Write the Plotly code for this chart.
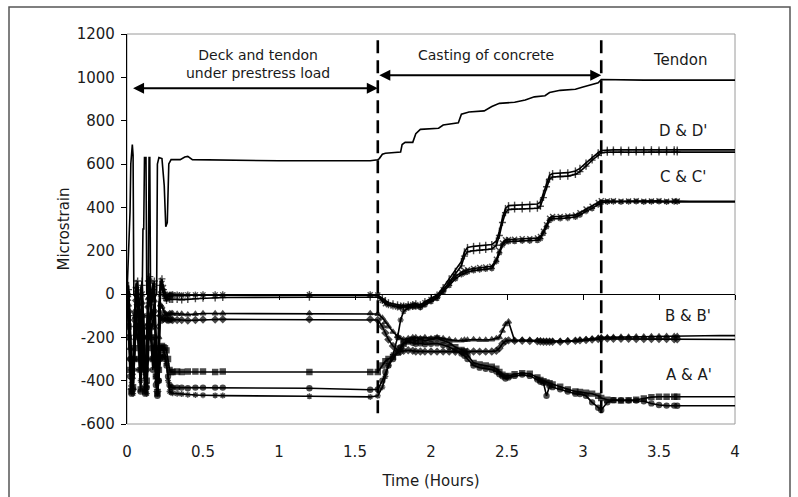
import plotly.graph_objects as go

# ---------------- data ----------------
x_ticks = [0, 0.5, 1, 1.5, 2, 2.5, 3, 3.5, 4]
x_tick_labels = ["0", "0.5", "1", "1.5", "2", "2.5", "3", "3.5", "4"]
y_ticks = [-600, -400, -200, 0, 200, 400, 600, 800, 1000, 1200]
y_tick_labels = ["-600", "-400", "-200", "0", "200", "400", "600", "800", "1000", "1200"]
x_range = [0, 4]
y_range = [-600, 1200]
phase_boundaries = [1.65, 3.12]

# time grids (hours)
t_phase1 = [0.00, 0.01, 0.02, 0.03, 0.04, 0.05, 0.06, 0.07, 0.08, 0.09, 0.10, 0.11, 0.12, 0.13,
            0.14, 0.15, 0.16, 0.17, 0.18, 0.19, 0.20, 0.21, 0.22, 0.23, 0.24, 0.25, 0.26, 0.27,
            0.28, 0.29, 0.30, 0.33, 0.36, 0.40, 0.45, 0.50, 0.58, 0.63, 1.20, 1.60]
t_phase2 = [1.65, 1.68, 1.70, 1.72, 1.75, 1.78, 1.80, 1.82, 1.85, 1.88, 1.90, 1.93, 1.96, 2.00,
            2.04, 2.08, 2.12, 2.16, 2.20, 2.22, 2.24, 2.28, 2.32, 2.36, 2.40, 2.43, 2.45, 2.47,
            2.49, 2.51, 2.55, 2.60, 2.65, 2.70, 2.72, 2.74, 2.76, 2.78, 2.80, 2.85, 2.90, 2.95,
            2.98, 3.02, 3.06, 3.10, 3.12, 3.16, 3.20, 3.25, 3.30, 3.35, 3.40, 3.45, 3.50, 3.55,
            3.60, 3.62, 3.70, 3.80, 3.90, 4.00]

# Tendon
tendon_t = [0.00, 0.02, 0.025, 0.035, 0.04, 0.045, 0.07, 0.10, 0.105, 0.11, 0.115, 0.125, 0.13,
            0.14, 0.145, 0.15, 0.155, 0.18, 0.195, 0.20, 0.21, 0.23, 0.245, 0.255, 0.265, 0.275,
            0.29, 0.35, 0.38, 0.40, 0.43, 0.60, 1.00, 1.60, 1.65, 1.66, 1.68, 1.70, 1.78, 1.80,
            1.81, 1.83, 1.88, 1.90, 1.93, 2.05, 2.08, 2.12, 2.18, 2.20, 2.25, 2.35, 2.40, 2.45,
            2.55, 2.62, 2.68, 2.75, 2.78, 2.85, 2.95, 3.00, 3.05, 3.10, 3.12, 3.35, 3.40, 4.00]
tendon_v = [0, 380, 600, 690, 640, 0, -50, 0, 300, 300, 630, 630, 0, 0, 630, 630, 0, -20, 0, 600,
            630, 625, 500, 310, 330, 600, 620, 620, 632, 635, 620, 618, 615, 615, 620, 625, 645,
            650, 652, 655, 690, 700, 700, 740, 760, 765, 780, 785, 790, 830, 840, 845, 865, 880,
            885, 895, 910, 915, 930, 940, 945, 955, 965, 975, 990, 985, 987, 987]

# Gauges, phase 1 (deck and tendon under prestress load)
D_p1 = [0, 40, -150, -300, -420, -200, 50, 30, -100, 20, 60, -250, -400, -150, 70, 40, -100, 50, 30,
        -300, -420, -50, 60, 40, -10, 0, -20, -10, -5, -5, -3, -5, -8, -5, -5, -3, -3, -3, -2, -3]
D2_p1 = [-10, 20, -100, -350, -440, -150, 30, 60, -50, -150, 40, -200, -430, -300, 60, 80, -50, 20,
         60, -200, -440, -100, 40, 70, 20, -20, -30, -20, -25, -25, -25, -25, -28, -25, -22, -20,
         -18, -16, -15, -15]
C_p1 = [0, -20, -200, -400, -380, -100, 20, 10, -80, -200, 0, -150, -380, -420, -50, 60, 0, -30, 40,
        -150, -400, -300, 0, 50, 30, 0, -10, -5, -5, -5, -5, -5, -5, -4, -4, -4, -4, -4, -3, -3]
C2_p1 = [0, -100, -300, -450, -460, -300, -100, -50, -200, -400, -300, -100, -350, -460, -300, -100,
         -150, -300, -200, -380, -460, -400, -250, -250, -260, -280, -320, -400, -450, -455, -458,
         -460, -462, -465, -466, -467, -468, -469, -472, -475]
B_p1 = [0, -50, -250, -420, -300, -80, 0, -20, -150, -300, -40, -300, -420, -200, -20, 20, -80, -100,
        -30, -250, -400, -200, -50, -60, -80, -90, -95, -95, -90, -90, -90, -92, -92, -95, -92, -90,
        -90, -90, -89, -89]
B2_p1 = [0, -80, -300, -440, -350, -120, -30, -50, -200, -350, -100, -200, -440, -350, -60, -20, -100,
         -150, -80, -300, -450, -300, -100, -120, -115, -110, -118, -120, -118, -118, -120, -120,
         -120, -122, -120, -118, -118, -117, -117, -117]
A_p1 = [0, -150, -350, -450, -430, -250, -100, -150, -300, -440, -250, -300, -450, -400, -150, -100,
        -200, -300, -250, -380, -460, -350, -250, -240, -245, -250, -260, -300, -350, -360, -360,
        -358, -360, -358, -358, -358, -360, -358, -360, -360]
A2_p1 = [0, -200, -380, -460, -440, -300, -150, -200, -350, -450, -300, -350, -460, -430, -200, -150,
         -250, -350, -300, -420, -470, -400, -300, -280, -290, -300, -330, -380, -420, -430, -432,
         -432, -432, -435, -432, -432, -432, -432, -435, -442]

# Gauges, phase 2 (casting of concrete) and after
D_p2 = [-5, -20, -30, -40, -45, -50, -55, -55, -50, -48, -45, -50, -35, -20, -5, 30, 70, 105, 150,
        195, 215, 220, 222, 225, 228, 245, 290, 350, 395, 408, 410, 410, 412, 415, 425, 465, 515,
        548, 556, 558, 560, 568, 580, 605, 630, 652, 662, 664, 665, 665, 664, 665, 665, 666, 665,
        665, 666, 665, 665, 665, 665, 665]
D2_p2 = [-15, -30, -40, -50, -55, -60, -62, -60, -58, -55, -55, -58, -45, -30, -15, 15, 55, 90, 130,
         175, 195, 200, 202, 205, 208, 225, 270, 330, 375, 390, 392, 392, 394, 396, 405, 445, 495,
         530, 540, 542, 544, 552, 565, 590, 618, 640, 652, 654, 655, 655, 654, 655, 655, 656, 655,
         655, 656, 655, 655, 655, 655, 655]
C_p2 = [-5, -30, -45, -50, -55, -60, -60, -55, -55, -50, -50, -55, -40, -25, -10, 20, 50, 80, 100,
        108, 112, 118, 122, 125, 128, 160, 200, 235, 250, 252, 253, 255, 255, 258, 265, 290, 320,
        350, 358, 358, 360, 365, 375, 392, 405, 422, 430, 429, 430, 428, 429, 430, 428, 429, 430,
        428, 430, 429, 428, 428, 428, 428]
C2_p2 = [-470, -430, -380, -330, -280, -200, -120, -80, -65, -60, -58, -62, -50, -35, -20, 10, 40, 70,
         90, 98, 102, 108, 112, 115, 118, 150, 190, 225, 240, 242, 243, 245, 245, 248, 255, 280, 310,
         340, 348, 348, 350, 355, 365, 382, 395, 412, 422, 425, 426, 425, 426, 427, 425, 426, 427,
         425, 426, 426, 425, 425, 425, 425]
B_p2 = [-92, -110, -130, -150, -175, -195, -205, -210, -205, -200, -200, -205, -200, -205, -200, -205,
        -210, -215, -215, -212, -212, -210, -212, -212, -210, -205, -200, -170, -140, -128, -215,
        -212, -212, -215, -215, -218, -218, -218, -218, -218, -215, -215, -212, -210, -207, -203,
        -200, -200, -199, -198, -198, -197, -197, -196, -196, -195, -195, -194, -194, -193, -192,
        -192]
B2_p2 = [-120, -150, -180, -210, -240, -258, -265, -262, -260, -262, -265, -265, -266, -265, -266,
         -265, -266, -267, -266, -266, -266, -265, -266, -266, -265, -262, -250, -230, -218, -214,
         -216, -216, -217, -218, -219, -220, -220, -220, -220, -220, -218, -216, -214, -212, -210,
         -208, -206, -206, -207, -207, -207, -208, -208, -208, -208, -208, -209, -209, -209, -209,
         -210, -210]
A_p2 = [-360, -330, -310, -300, -290, -270, -250, -230, -215, -210, -215, -210, -215, -210, -205,
        -215, -225, -245, -258, -265, -280, -318, -325, -330, -336, -345, -360, -372, -380, -378,
        -370, -365, -368, -385, -397, -402, -408, -412, -418, -428, -440, -450, -452, -455, -460,
        -470, -480, -488, -490, -492, -490, -488, -482, -476, -474, -474, -474, -474, -474, -474,
        -474, -474]
A2_p2 = [-440, -400, -360, -330, -300, -270, -245, -225, -220, -225, -230, -228, -232, -230, -228,
         -235, -245, -260, -275, -285, -300, -330, -340, -345, -350, -358, -370, -380, -390, -385,
         -378, -372, -378, -395, -405, -410, -470, -425, -430, -440, -450, -460, -462, -470, -500,
         -525, -535, -500, -490, -490, -492, -492, -495, -505, -512, -515, -515, -516, -516, -516,
         -516, -516]

gauge_names = ["D", "D'", "C", "C'", "B", "B'", "A", "A'"]
gauge_p1 = [D_p1, D2_p1, C_p1, C2_p1, B_p1, B2_p1, A_p1, A2_p1]
gauge_p2 = [D_p2, D2_p2, C_p2, C2_p2, B_p2, B2_p2, A_p2, A2_p2]

phase_texts = ["Deck and tendon<br>under prestress load", "Casting of concrete"]
series_labels = ["Tendon", "D & D'", "C & C'", "B & B'", "A & A'"]

# ---------------- styling ----------------
FONT = "DejaVu Sans"
TXT = "#1a1a1a"
symbols = ["line-ns-open", "cross-thin-open", "x-thin-open", "asterisk-open",
           "triangle-up", "diamond", "square", "circle"]
marker_cutoff = 3.62

fig = go.Figure()

t_all = t_phase1 + t_phase2
for name, v1, v2, sym in zip(gauge_names, gauge_p1, gauge_p2, symbols):
    vals = v1 + v2
    sizes = [5 if t <= marker_cutoff else 0 for t in t_all]
    fig.add_trace(go.Scatter(
        x=t_all, y=vals, mode="lines+markers", name=name,
        line=dict(color="black", width=1.6),
        marker=dict(symbol=sym, size=sizes, color="black",
                    line=dict(color="black", width=1.4)),
        hoverinfo="skip", showlegend=False))

fig.add_trace(go.Scatter(
    x=tendon_t, y=tendon_v, mode="lines", name="Tendon",
    line=dict(color="black", width=1.6), xaxis="x2", yaxis="y",
    hoverinfo="skip", showlegend=False))

# dashed phase boundaries
for xb in phase_boundaries:
    fig.add_shape(type="line", xref="x", yref="y", x0=xb, x1=xb, y0=-550, y1=y_range[1],
                  line=dict(color="black", width=2.6, dash="13px,7px"), layer="above")

# double-headed arrows
arrow_spans = [(0.03, phase_boundaries[0], 950), (phase_boundaries[0], phase_boundaries[1], 1010)]
for xa, xb, ya in arrow_spans:
    fig.add_annotation(x=xb, y=ya, ax=xa, ay=ya, xref="x", yref="y", axref="x", ayref="y",
                       text="", showarrow=True, arrowhead=2, arrowside="end+start",
                       arrowsize=1.1, arrowwidth=2, arrowcolor="black", standoff=0, startstandoff=0)

# phase texts
fig.add_annotation(x=0.86, y=1061, xref="x", yref="y", text=phase_texts[0], showarrow=False,
                   font=dict(family=FONT, size=14, color=TXT), align="center")
fig.add_annotation(x=2.36, y=1103, xref="x", yref="y", text=phase_texts[1], showarrow=False,
                   font=dict(family=FONT, size=14, color=TXT), align="center")

# series labels
label_pos = [(3.64, 1080), (3.66, 752), (3.66, 538), (3.69, -102), (3.70, -374)]
for txt, (lx, ly) in zip(series_labels, label_pos):
    fig.add_annotation(x=lx, y=ly, xref="x", yref="y", text=txt, showarrow=False,
                       font=dict(family=FONT, size=15, color=TXT))

# plot frame (gray)
fig.add_shape(type="rect", xref="paper", yref="paper", x0=0, x1=1, y0=0, y1=1,
              line=dict(color="#9a9a9a", width=1), layer="below")
# outer border
fig.add_shape(type="rect", xref="paper", yref="paper",
              x0=(9 - 127) / 608, x1=(790 - 127) / 608, y0=(424 - 510) / 390, y1=(424 - 7) / 390,
              line=dict(color="#555555", width=1.5), layer="below")

zero_pos = (0 - y_range[0]) / (y_range[1] - y_range[0])

fig.update_layout(
    template="none",
    width=798, height=497,
    margin=dict(l=127, r=63, t=34, b=73),
    plot_bgcolor="white", paper_bgcolor="white",
    showlegend=False,
    font=dict(family=FONT, size=15, color=TXT),
    xaxis=dict(range=x_range, tickvals=x_ticks, ticktext=x_tick_labels, ticks="",
               showline=False, showgrid=False, zeroline=False, automargin=False,
               tickfont=dict(family=FONT, size=15, color=TXT), ticklabelstandoff=17,
               title=dict(text="Time (Hours)", font=dict(family=FONT, size=15, color=TXT),
                          standoff=15)),
    xaxis2=dict(range=x_range, overlaying="x", anchor="free", position=zero_pos,
                tickvals=x_ticks, ticks="outside", ticklen=5, tickwidth=1, tickcolor="black",
                showticklabels=False, showline=True, linecolor="black", linewidth=1,
                showgrid=False, zeroline=False, automargin=False),
    yaxis=dict(range=y_range, tickvals=y_ticks, ticktext=y_tick_labels, ticks="outside",
               ticklen=5, tickwidth=1,
               tickcolor="black", showline=True, linecolor="black", linewidth=1.2,
               showgrid=False, zeroline=False, automargin=False,
               tickfont=dict(family=FONT, size=15, color=TXT), ticklabelstandoff=3,
               title=dict(text="Microstrain", font=dict(family=FONT, size=15, color=TXT),
                          standoff=3)),
)

fig.write_html("out.html", config={"displayModeBar": False},
               post_script="document.body.style.margin='0';")
